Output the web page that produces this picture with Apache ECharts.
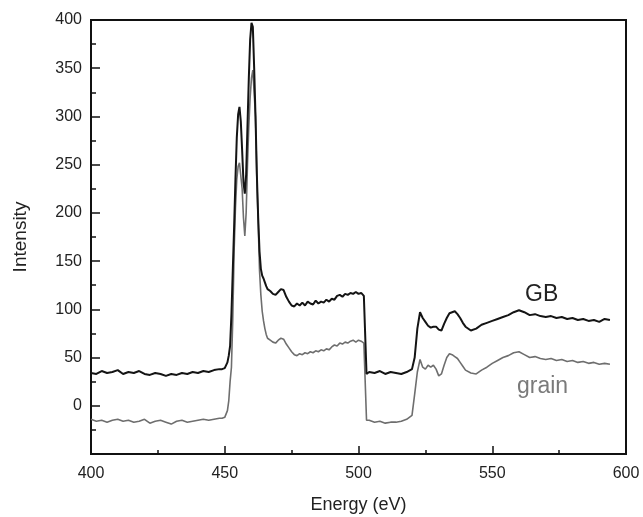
<!DOCTYPE html>
<html>
<head>
<meta charset="utf-8">
<script src="https://cdn.jsdelivr.net/npm/echarts@6/dist/echarts.min.js"></script>
<style>
html,body{margin:0;padding:0;background:#fff;}
#chart{width:643px;height:517px;}
</style>
</head>
<body>
<div id="chart"></div>
<script>
// Energy (eV) sample positions
const energy = [
  400,402,404,406,408,410,412,414,416,418,420,422,424,426,428,430,432,434,436,438,440,442,444,446,448,
  449,450,450.5,451,451.5,452,452.5,453,453.5,454,454.5,455,455.5,456,456.5,457,457.5,458,458.5,459,459.5,460,460.5,461,461.5,462,462.5,463,463.5,464,464.5,465,465.5,466,
  467,468,469,470,471,472,473,474,475,476,477,478,479,480,481,482,483,484,485,486,487,488,489,490,491,492,493,494,495,496,497,498,499,500,501,502,502.5,503,
  504,506,508,510,512,514,516,518,520,
  521,522,523,524,525,526,527,528,529,530,531,532,533,534,535,536,537,538,539,540,
  542,544,546,548,550,552,554,556,558,560,562,564,566,568,570,572,574,576,578,580,582,584,586,588,590,592,594
];
// GB spectrum intensity
const gbIntensity = [
  34,33,36,34,35,37,33,35,34,36,33,32,34,33,31,33,32,34,33,35,34,36,35,37,38,
  38,39,41,45,52,62,95,140,185,235,278,302,310,295,265,232,220,240,290,340,380,397,393,350,300,240,195,160,142,135,132,128,124,121,
  119,116,115,118,121,120,113,108,104,103,106,104,107,104,108,106,105,109,106,108,107,110,108,111,110,114,115,113,116,115,117,116,118,116,117,114,112,33,
  35,34,36,33,35,34,33,35,38,
  50,80,97,91,87,83,81,82,82,79,78,85,91,96,97,98,95,91,86,82,
  78,80,84,86,88,90,92,94,97,99,97,94,95,93,92,93,91,92,90,91,89,90,88,89,87,90,89
];
// grain spectrum intensity
const grainIntensity = [
  -14,-16,-15,-17,-15,-14,-16,-15,-17,-16,-14,-18,-16,-15,-17,-19,-16,-15,-17,-16,-15,-14,-15,-14,-13,
  -13,-12,-10,-5,5,25,40,90,160,205,235,248,252,253,225,195,176,200,250,290,320,340,348,350,300,235,190,140,115,98,88,80,74,70,
  68,66,65,68,70,69,64,60,56,53,52,54,53,55,54,56,55,57,56,58,57,59,58,61,63,62,65,64,66,65,67,68,66,68,67,65,64,-15,
  -15,-17,-16,-18,-17,-17,-16,-14,-10,
  12,35,48,40,38,42,40,42,38,31,33,42,50,54,53,51,49,45,41,37,
  34,33,37,40,44,47,50,52,55,56,53,50,51,49,48,49,47,48,46,47,45,46,44,45,43,44,43
];
const xTicks = [400, 450, 500, 550, 600];
const yTicks = [0, 50, 100, 150, 200, 250, 300, 350, 400];
const seriesNames = ['GB', 'grain'];

const gbData = energy.map((e, i) => [e, gbIntensity[i]]);
const grainData = energy.map((e, i) => [e, grainIntensity[i]]);

const FONT = '"Liberation Sans", Arial, Helvetica, sans-serif';
const chart = echarts.init(document.getElementById('chart'), null, {renderer: 'canvas'});
chart.setOption({
  animation: false,
  backgroundColor: '#fff',
  grid: {left: 91, right: 17, top: 20, bottom: 63, containLabel: false, outerBoundsMode: 'none',
         show: true, borderColor: '#111', borderWidth: 2, backgroundColor: 'transparent'},
  xAxis: {
    type: 'value', min: xTicks[0], max: xTicks[xTicks.length - 1], interval: 50,
    name: 'Energy (eV)', nameLocation: 'middle', nameGap: 42,
    nameTextStyle: {fontFamily: FONT, fontSize: 18, color: '#222'},
    axisLine: {show: true, onZero: false, lineStyle: {color: '#111', width: 2}},
    axisTick: {show: true, inside: true, length: 8, lineStyle: {color: '#111', width: 1.5}},
    minorTick: {show: true, splitNumber: 2, length: 4, lineStyle: {color: '#111', width: 1.5}},
    axisLabel: {fontFamily: FONT, fontSize: 16, color: '#222', margin: 12},
    splitLine: {show: false}
  },
  yAxis: {
    type: 'value', min: -50, max: yTicks[yTicks.length - 1], interval: 50,
    name: 'Intensity', nameLocation: 'middle', nameGap: 61,
    nameTextStyle: {fontFamily: FONT, fontSize: 19, color: '#222'},
    axisLine: {show: true, onZero: false, lineStyle: {color: '#111', width: 2}},
    axisTick: {show: true, inside: true, length: 9, lineStyle: {color: '#111', width: 1.5}},
    minorTick: {show: true, splitNumber: 2, length: 5, lineStyle: {color: '#111', width: 1.5}},
    axisLabel: {fontFamily: FONT, fontSize: 16, color: '#222', margin: 9,
      formatter: v => (yTicks.indexOf(v) >= 0 ? String(v) : '')},
    splitLine: {show: false}
  },
  series: [
    {name: seriesNames[0], type: 'line', data: gbData, showSymbol: false, symbol: 'none',
     lineStyle: {color: '#141414', width: 2}, z: 3},
    {name: seriesNames[1], type: 'line', data: grainData, showSymbol: false, symbol: 'none',
     lineStyle: {color: '#6e6e6e', width: 1.6}, z: 2}
  ],
  graphic: [
    {type: 'text', left: 525, top: 283, style: {text: seriesNames[0], font: '23px ' + FONT, fill: '#222'}},
    {type: 'text', left: 517, top: 375, style: {text: seriesNames[1], font: '23px ' + FONT, fill: '#7a7a7a'}}
  ]
});
</script>
</body>
</html>
